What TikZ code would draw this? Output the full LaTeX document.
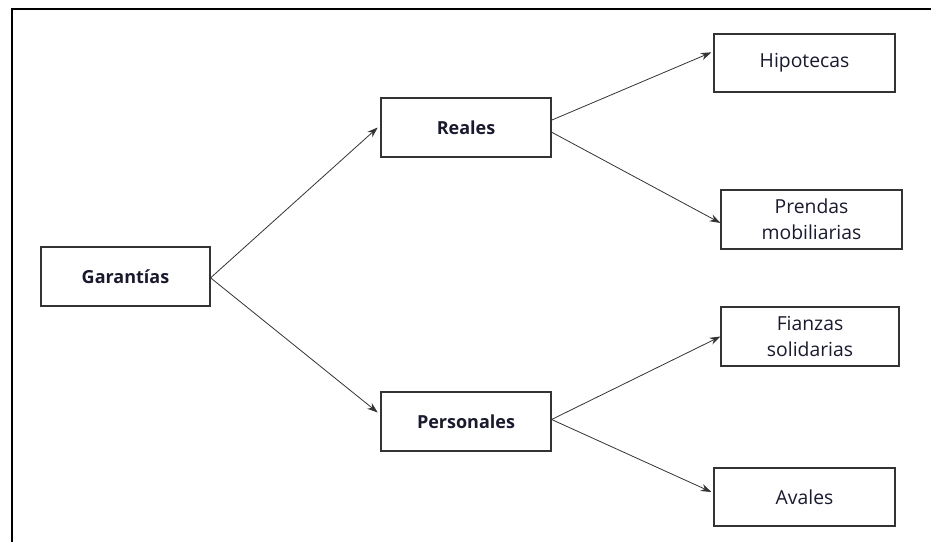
\documentclass[tikz,border=0pt]{standalone}
\usepackage{fontspec}
\setmainfont{Open Sans}
\usetikzlibrary{arrows.meta}
\definecolor{boxline}{HTML}{333333}
\definecolor{txt}{HTML}{1A1A2E}
\tikzset{
  px/.style={x=0.75pt,y=-0.75pt},
  gbox/.style={draw=boxline,line width=0.9pt,fill=white,inner sep=0pt,align=center,
    font=\fontsize{14.5}{19.5}\selectfont,text=txt},
  mainbox/.style={gbox,font=\fontsize{13.5}{16}\selectfont\bfseries},
  conn/.style={draw=black!80,line width=0.6pt,-{Stealth[length=8pt,width=5.5pt]}},
  framel/.style={draw=black,line width=1.1pt}
}
\begin{document}
\begin{tikzpicture}[px]
\useasboundingbox (0,0) rectangle (931,542);
\coordinate (fa) at (931,9);
\coordinate (fb) at (12,9);
\coordinate (fc) at (12,542);
\draw[framel] (fa) -- (fb) -- (fc);
\node[mainbox,minimum width=126.75pt,minimum height=44.25pt] (gar) at (125.5,276.5) {Garantías};
\node[mainbox,minimum width=127.5pt,minimum height=44.25pt] (rea) at (466,127.5) {Reales};
\node[mainbox,minimum width=127.5pt,minimum height=44.25pt] (per) at (466,421.5) {Personales};
\node[gbox,minimum width=135.75pt,minimum height=43.5pt] (hip) at (804.5,63) {Hipotecas};
\node[gbox,minimum width=135.75pt,minimum height=44.25pt] (pre) at (811.5,219.5) {Prendas\\mobiliarias};
\node[gbox,minimum width=133.5pt,minimum height=44.25pt] (fia) at (810,336.5) {Fianzas\\solidarias};
\node[gbox,minimum width=135.75pt,minimum height=43.5pt] (ava) at (804.5,497) {Avales};
\draw[conn] ([yshift=-1pt]gar.east) -- ([xshift=-2pt,yshift=0pt]rea.west);
\draw[conn] ([yshift=-1pt]gar.east) -- ([xshift=-2pt,yshift=6.75pt]per.west);
\draw[conn] ([yshift=5.5pt]rea.east) -- ([xshift=-1.5pt,yshift=8pt]hip.west);
\draw[conn] ([yshift=-3.5pt]rea.east) -- ([yshift=-2.6pt]pre.west);
\draw[conn] ([yshift=1.5pt]per.east) -- ([yshift=0pt]fia.west);
\draw[conn] ([yshift=1.5pt]per.east) -- ([xshift=-1.5pt,yshift=3.75pt]ava.west);
\end{tikzpicture}
\end{document}
